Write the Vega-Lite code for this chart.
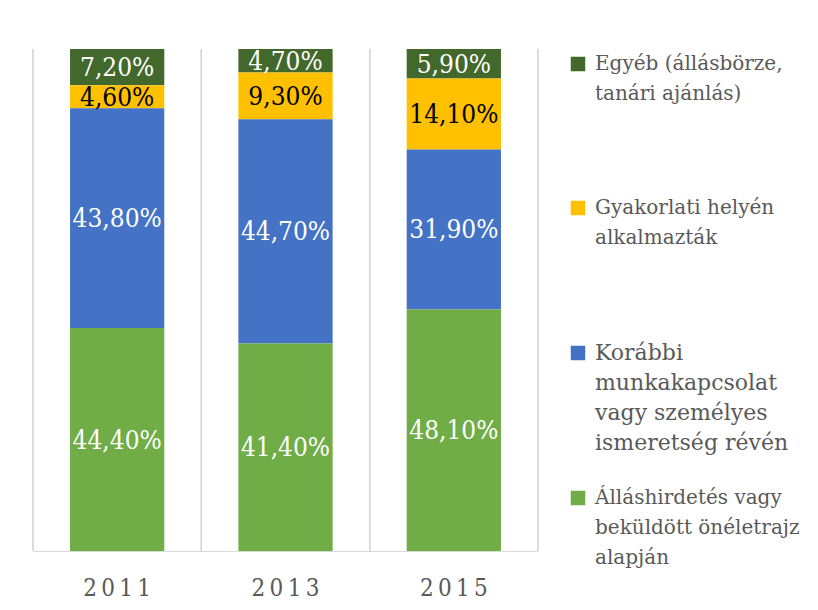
{
  "$schema": "https://vega.github.io/schema/vega-lite/v6.json",
  "width": 505,
  "height": 502,
  "autosize": {"type": "none"},
  "padding": {"left": 33, "top": 49, "right": 280, "bottom": 59},
  "background": "white",
  "config": {"view": {"stroke": null}},
  "data": {
    "values": [
      {"year": "2011", "cat": "Egyéb (állásbörze, tanári ajánlás)", "v": 7.2},
      {"year": "2011", "cat": "Gyakorlati helyén alkalmazták", "v": 4.6},
      {"year": "2011", "cat": "Korábbi munkakapcsolat vagy személyes ismeretség révén", "v": 43.8},
      {"year": "2011", "cat": "Álláshirdetés vagy beküldött önéletrajz alapján", "v": 44.4},
      {"year": "2013", "cat": "Egyéb (állásbörze, tanári ajánlás)", "v": 4.7},
      {"year": "2013", "cat": "Gyakorlati helyén alkalmazták", "v": 9.3},
      {"year": "2013", "cat": "Korábbi munkakapcsolat vagy személyes ismeretség révén", "v": 44.7},
      {"year": "2013", "cat": "Álláshirdetés vagy beküldött önéletrajz alapján", "v": 41.4},
      {"year": "2015", "cat": "Egyéb (állásbörze, tanári ajánlás)", "v": 5.9},
      {"year": "2015", "cat": "Gyakorlati helyén alkalmazták", "v": 14.1},
      {"year": "2015", "cat": "Korábbi munkakapcsolat vagy személyes ismeretség révén", "v": 31.9},
      {"year": "2015", "cat": "Álláshirdetés vagy beküldött önéletrajz alapján", "v": 48.1}
    ]
  },
  "transform": [
    {"stack": "v", "groupby": ["year"], "sort": [{"field": "cat", "order": "descending"}], "as": ["v0", "v1"], "offset": "normalize"},
    {"calculate": "(datum.v0 + datum.v1) / 2", "as": "mid"},
    {"calculate": "replace(format(datum.v, '.2f'), '.', ',') + '%'", "as": "lbl"}
  ],
  "layer": [
    {
      "mark": {"type": "rule", "color": "#d9d9d9", "strokeWidth": 1},
      "encoding": {
        "x": {"field": "year", "type": "ordinal", "bandPosition": 0,
          "scale": {"paddingInner": 0, "paddingOuter": 0},
          "axis": {"title": null, "labelAngle": 0, "domainColor": "#d9d9d9", "ticks": false, "grid": false,
            "labelFont": "DejaVu Serif Condensed", "labelFontSize": 24, "labelColor": "#595959", "labelPadding": 25,
            "labelExpr": "join(split(datum.label, ''), '\u2009')"}}
      }
    },
    {
      "mark": {"type": "rule", "color": "#d9d9d9", "strokeWidth": 1},
      "encoding": {
        "x": {"field": "year", "type": "ordinal", "bandPosition": 1,
          "scale": {"paddingInner": 0, "paddingOuter": 0},
          "axis": {"title": null, "labelAngle": 0, "domainColor": "#d9d9d9", "ticks": false, "grid": false,
            "labelFont": "DejaVu Serif Condensed", "labelFontSize": 24, "labelColor": "#595959", "labelPadding": 25,
            "labelExpr": "join(split(datum.label, ''), '\u2009')"}}
      }
    },
    {
      "mark": {"type": "bar", "width": {"band": 0.56}},
      "encoding": {
        "x": {"field": "year", "type": "ordinal",
          "scale": {"paddingInner": 0, "paddingOuter": 0},
          "axis": {"title": null, "labelAngle": 0, "domainColor": "#d9d9d9", "ticks": false, "grid": false,
            "labelFont": "DejaVu Serif Condensed", "labelFontSize": 24, "labelColor": "#595959", "labelPadding": 25,
            "labelExpr": "join(split(datum.label, ''), '\u2009')"}},
        "y": {"field": "v0", "type": "quantitative", "scale": {"domain": [0, 1], "nice": false}, "axis": null},
        "y2": {"field": "v1"},
        "color": {
          "field": "cat", "type": "nominal",
          "scale": {
            "domain": ["Egyéb (állásbörze, tanári ajánlás)", "Gyakorlati helyén alkalmazták", "Korábbi munkakapcsolat vagy személyes ismeretség révén", "Álláshirdetés vagy beküldött önéletrajz alapján"],
            "range": ["#43682b", "#ffc000", "#4472c4", "#70ad47"]
          },
          "legend": {
            "title": null, "orient": "right", "offset": 25, "padding": 5,
            "symbolType": "square", "symbolSize": 210, "symbolStrokeWidth": 0, "symbolOpacity": 1,
            "labelFont": "DejaVu Serif", "labelFontSize": 20, "labelColor": "#595959",
            "labelBaseline": "top", "labelLimit": 400, "labelOffset": 7, "rowPadding": 34,
            "labelExpr": "datum.value == 'Egyéb (állásbörze, tanári ajánlás)' ? ['Egyéb (állásbörze,', 'tanári ajánlás)', '', ''] : datum.value == 'Gyakorlati helyén alkalmazták' ? ['Gyakorlati helyén', 'alkalmazták', '', ''] : datum.value == 'Korábbi munkakapcsolat vagy személyes ismeretség révén' ? ['Korábbi', 'munkakapcsolat', 'vagy személyes', 'ismeretség révén'] : ['Álláshirdetés vagy', 'beküldött önéletrajz', 'alapján', '']",
            "encode": {
              "labels": {
                "update": {
                  "fontSize": {"signal": "datum.value == 'Korábbi munkakapcsolat vagy személyes ismeretség révén' ? 22 : 20"},
                  "lineHeight": {"value": 30},
                  "dy": {"value": -10}
                }
              }
            }
          }
        }
      }
    },
    {
      "mark": {"type": "text", "font": "DejaVu Serif Condensed", "fontSize": 26, "baseline": "middle", "align": "center", "dy": 1},
      "encoding": {
        "x": {"field": "year", "type": "ordinal",
          "scale": {"paddingInner": 0, "paddingOuter": 0},
          "axis": {"title": null, "labelAngle": 0, "domainColor": "#d9d9d9", "ticks": false, "grid": false,
            "labelFont": "DejaVu Serif Condensed", "labelFontSize": 24, "labelColor": "#595959", "labelPadding": 25,
            "labelExpr": "join(split(datum.label, ''), '\u2009')"}},
        "y": {"field": "mid", "type": "quantitative"},
        "text": {"field": "lbl"},
        "color": {"condition": {"test": "datum.cat == 'Gyakorlati helyén alkalmazták'", "value": "#000000"}, "value": "#ffffff"}
      }
    }
  ]
}
